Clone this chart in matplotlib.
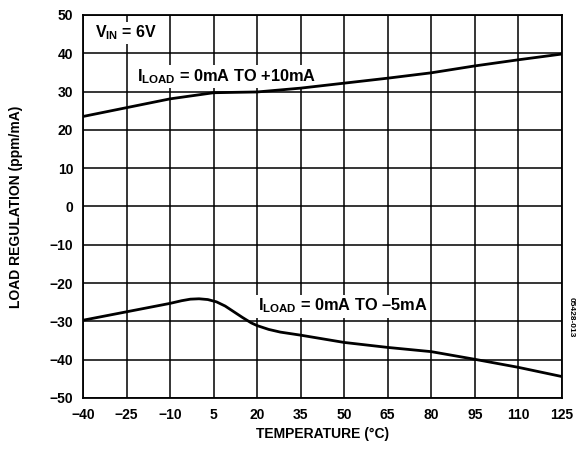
import numpy as np
import matplotlib
matplotlib.use('Agg')
import matplotlib.pyplot as plt

plt.rcParams['font.family'] = ['Liberation Sans', 'DejaVu Sans']
plt.rcParams['font.weight'] = 'bold'
plt.rcParams['mathtext.fontset'] = 'custom'
plt.rcParams['mathtext.rm'] = 'Liberation Sans:bold'
plt.rcParams['mathtext.bf'] = 'Liberation Sans:bold'
plt.rcParams['axes.unicode_minus'] = True

# load regulation vs temperature
temp_src = [-40, -25, -10, 5, 12, 20, 35, 50, 65, 80, 95, 110, 125]
reg_src = [23.5, 25.8, 28.1, 29.7, 29.8, 29.9, 30.9, 32.2, 33.5, 34.9, 36.7, 38.3, 39.8]

temp_sink = [-40, -25, -10, -6, -3, 0, 3, 6, 9, 12, 15, 18, 20, 24, 28, 35, 50, 65, 80, 95, 110, 125]
reg_sink = [-29.7, -27.5, -25.3, -24.6, -24.2, -24.1, -24.3, -24.9, -26.0, -27.5, -29.0, -30.4,
            -31.1, -32.1, -32.8, -33.6, -35.5, -36.8, -37.9, -39.9, -42.0, -44.4]

x_ticks = [-40, -25, -10, 5, 20, 35, 50, 65, 80, 95, 110, 125]
y_ticks = [-50, -40, -30, -20, -10, 0, 10, 20, 30, 40, 50]

fig = plt.figure(figsize=(5.78, 4.5), dpi=100)
ax = fig.add_axes([0.1436, 0.1156, 0.8284, 0.8511])

# curves sit above the label boxes so the boxes only knock out grid lines
ax.plot(temp_src, reg_src, color='black', lw=2.0, zorder=5)
ax.plot(temp_sink, reg_sink, color='black', lw=2.0, zorder=5)

ax.set_xlim(-40, 125)
ax.set_ylim(-50, 50)
ax.set_xticks(x_ticks)
ax.set_yticks(y_ticks)
ax.grid(True, color='black', lw=1.3, alpha=0.85)
ax.tick_params(length=0, labelsize=10, pad=7)
for lbl in ax.get_xticklabels() + ax.get_yticklabels():
    lbl.set_fontweight('bold')
for sp in ax.spines.values():
    sp.set_linewidth(1.3)

ax.set_xlabel('TEMPERATURE (°C)', fontsize=10, fontweight='bold')
ax.set_ylabel('LOAD REGULATION (ppm/mA)', fontsize=10, fontweight='bold')
ax.xaxis.set_label_coords(0.5, -0.076)
ax.yaxis.set_label_coords(-0.125, 0.5)

box = dict(facecolor='white', edgecolor='none', pad=1.5)
ax.text(-36, 45.3, r'V$_{\mathbf{IN}}$ = 6V', fontsize=11.5, fontweight='bold',
        ha='left', va='center', bbox=box, zorder=4)
ax.text(-21.4, 34.0, r'I$_{\mathbf{LOAD}}$ = 0mA TO +10mA', fontsize=11.8, fontweight='bold',
        ha='left', va='center', bbox=box, zorder=4)
ax.text(20.3, -26.0, r'I$_{\mathbf{LOAD}}$ = 0mA TO –5mA', fontsize=11.8, fontweight='bold',
        ha='left', va='center', bbox=box, zorder=4)

fig.text(0.988, 0.295, '05428-013', fontsize=6, rotation=270, ha='center', va='center')

fig.savefig('out.png', dpi=100)
